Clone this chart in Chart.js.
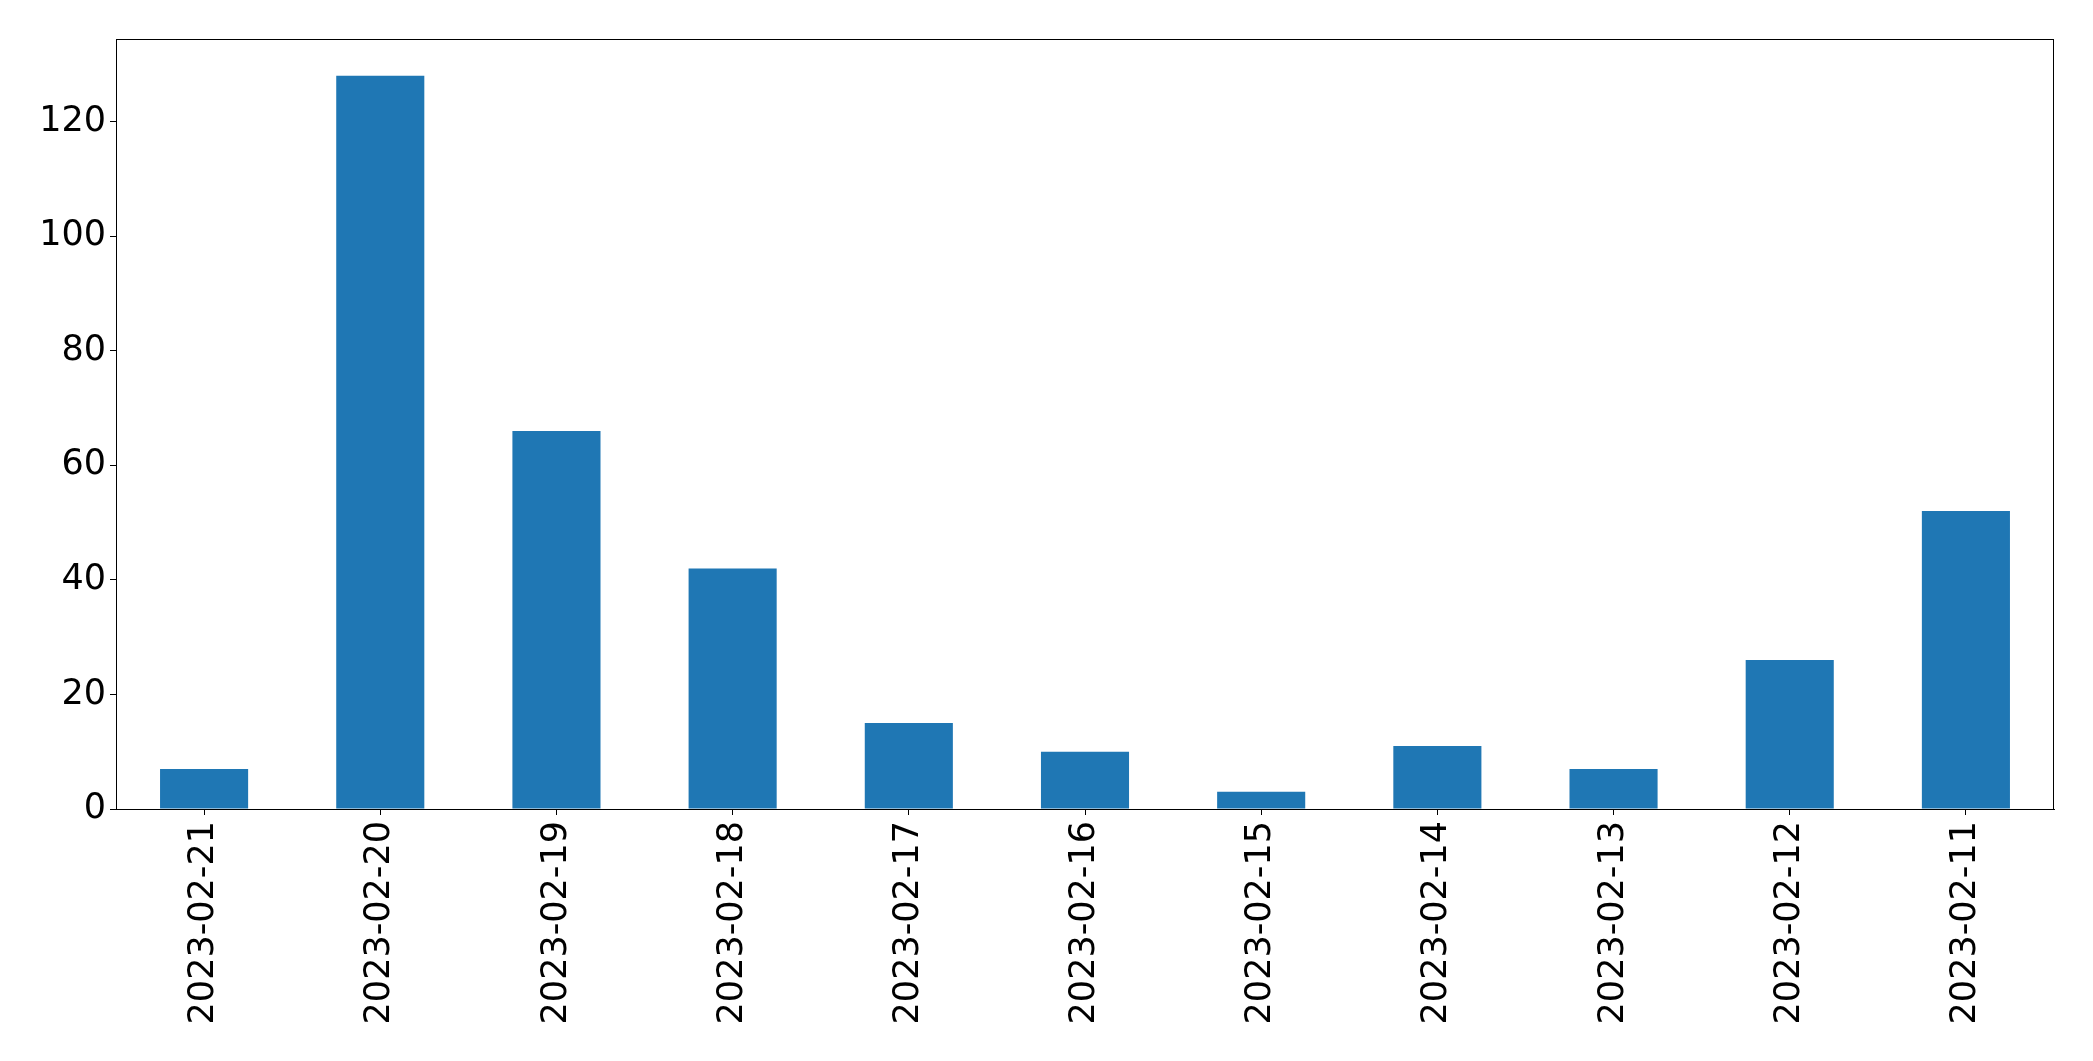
<!DOCTYPE html>
<html>
  <head>
    <title>Daily counts</title>
    <script src="https://cdn.jsdelivr.net/npm/chart.js"></script>
    <style>
      body { margin: 0; background: #fff; }
    </style>
  </head>
  <body>
    <canvas id="myChart" width="2093" height="1061"></canvas>
    <script>
      var dates = ["2023-02-21", "2023-02-20", "2023-02-19", "2023-02-18", "2023-02-17",
        "2023-02-16", "2023-02-15", "2023-02-14", "2023-02-13", "2023-02-12", "2023-02-11"];
      var counts = [7, 128, 66, 42, 15, 10, 3, 11, 7, 26, 52];
      var yTicks = [0, 20, 40, 60, 80, 100, 120];

      var fontFamily = "'DejaVu Sans', sans-serif";

      // matplotlib draws a box all round the axes
      var frame = {
        id: "frame",
        afterDraw: function (chart) {
          var a = chart.chartArea;
          var c = chart.ctx;
          c.save();
          c.strokeStyle = "#000";
          c.lineWidth = 1;
          c.strokeRect(a.left + 0.5, a.top + 0.5, a.right - a.left - 1, a.bottom - a.top);
          c.restore();
        }
      };

      var ctx = document.getElementById("myChart").getContext("2d");
      var myChart = new Chart(ctx, {
        type: "bar",
        data: {
          labels: dates,
          datasets: [{
            data: counts,
            backgroundColor: "#1f77b4",
            borderWidth: 0,
            barPercentage: 0.5,
            categoryPercentage: 1.0
          }]
        },
        options: {
          responsive: false,
          animation: false,
          layout: { padding: { top: 39, right: 39, left: 0, bottom: 0 } },
          plugins: {
            legend: { display: false },
            tooltip: { enabled: false }
          },
          scales: {
            x: {
              offset: true,
              grid: { offset: false, drawOnChartArea: false, tickLength: 6, color: "#000" },
              border: { color: "#000", width: 1 },
              ticks: {
                color: "#000",
                font: { family: fontFamily, size: 35 },
                minRotation: 90,
                maxRotation: 90,
                padding: 6,
                autoSkip: false
              },
              afterFit: function (scale) { scale.height = 252; }
            },
            y: {
              min: 0,
              max: 128 * 1.05,
              grid: { drawOnChartArea: false, tickLength: 6, color: "#000" },
              border: { color: "#000", width: 1 },
              ticks: {
                color: "#000",
                font: { family: fontFamily, size: 35 },
                stepSize: 20,
                includeBounds: false,
                padding: 4,
                callback: function (v) { return yTicks.indexOf(v) >= 0 ? v : ""; }
              },
              afterFit: function (scale) { scale.width = 116; }
            }
          }
        },
        plugins: [frame]
      });
    </script>
  </body>
</html>
